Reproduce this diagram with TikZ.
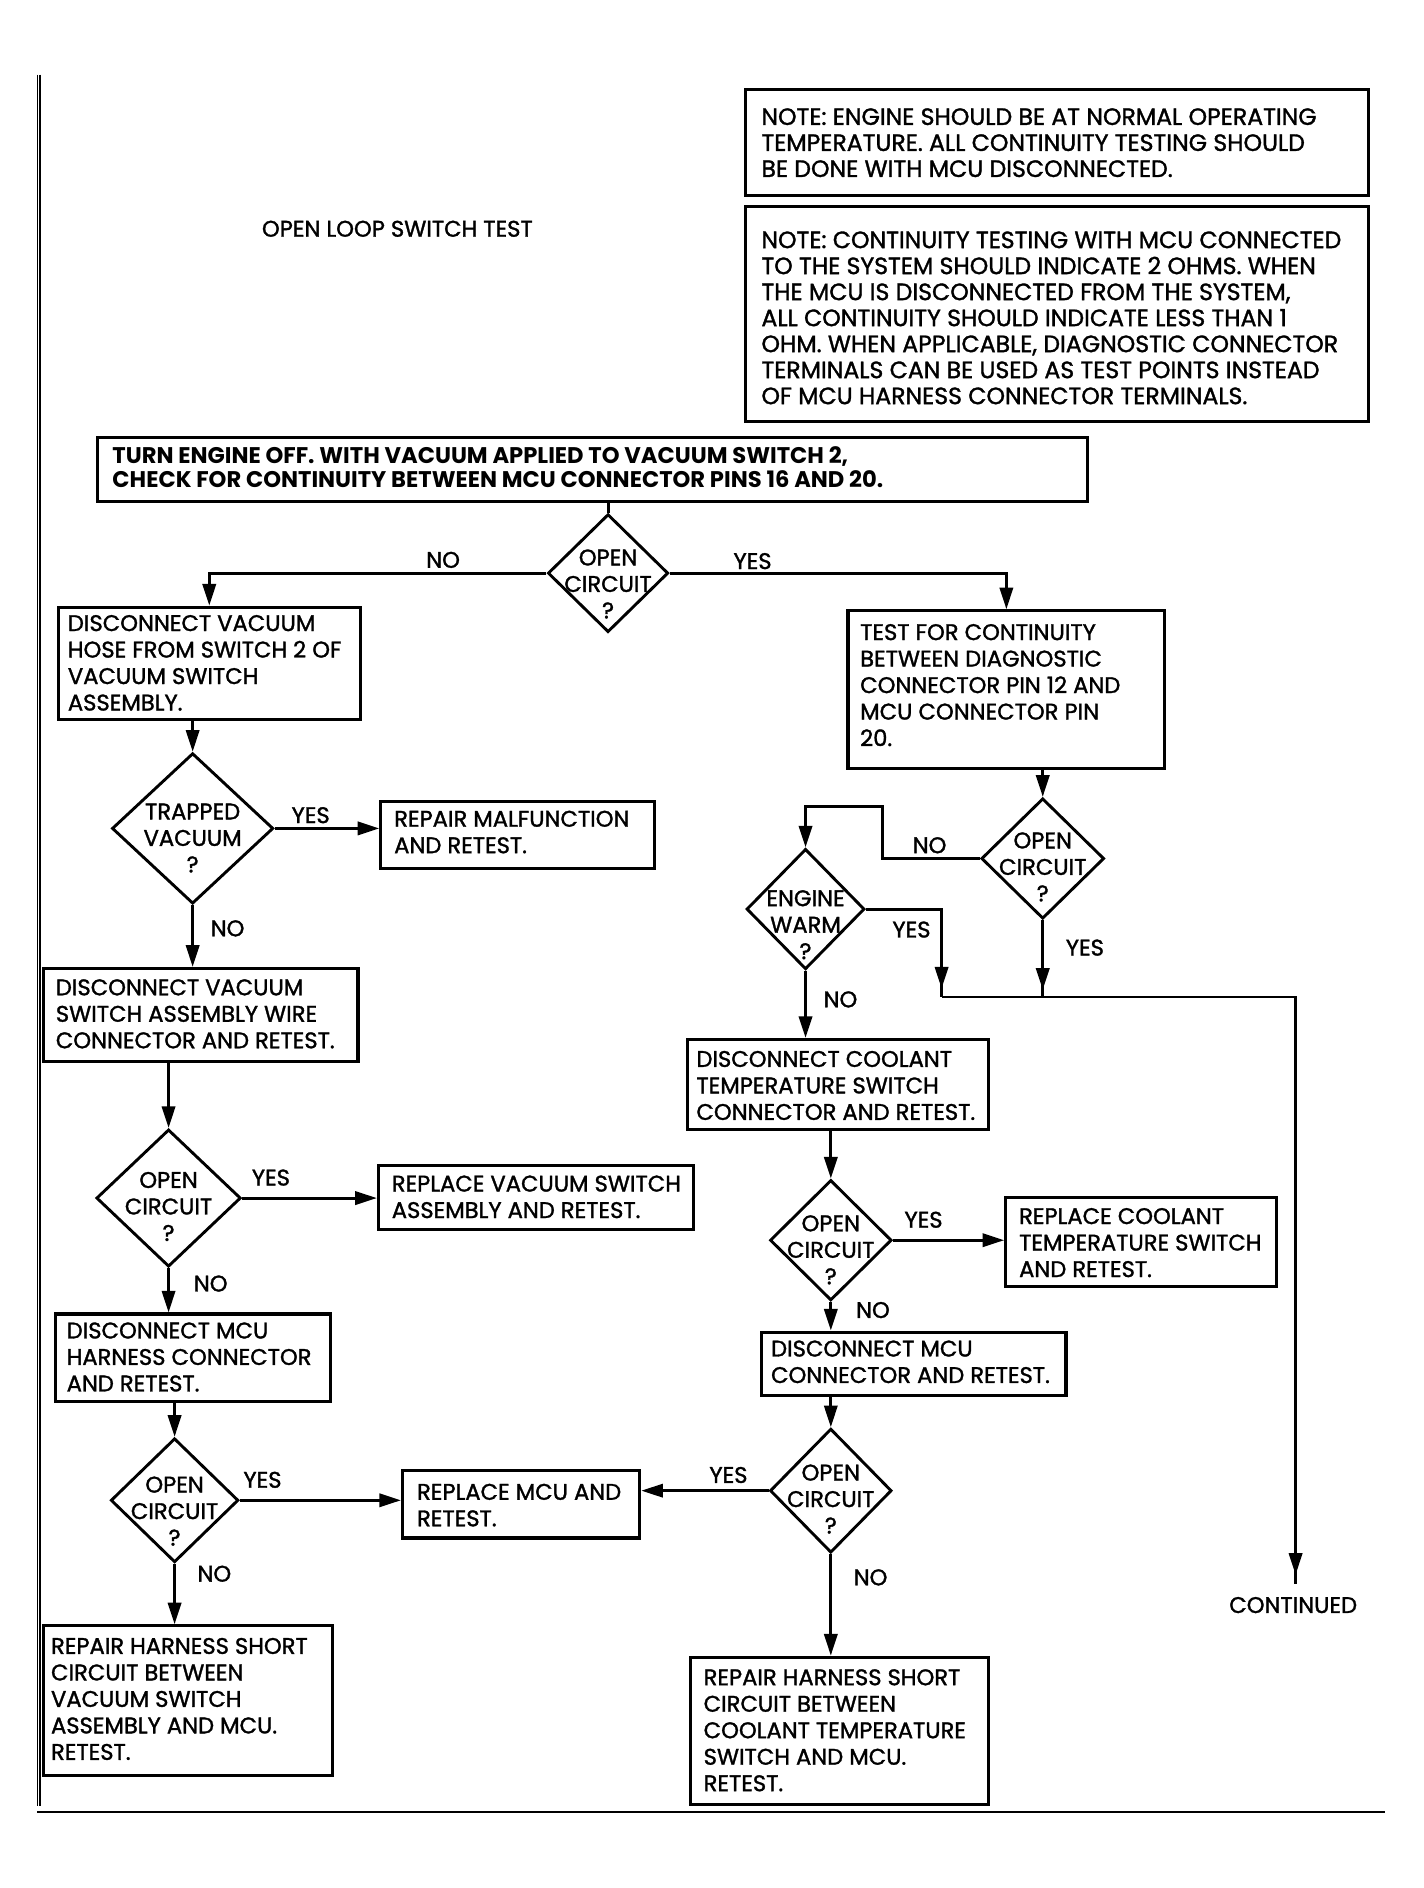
\documentclass[tikz,border=0pt]{standalone}
\usepackage{fontspec}
\setmainfont{Poppins}
\newfontfamily\heavyfont{Poppins}[FakeBold=1.4]
\usetikzlibrary{arrows.meta,shapes.geometric,decorations.markings}
\newcommand\bodyfont{\heavyfont\fontsize{9.4}{11}\selectfont}
\newcommand\notefont{\heavyfont\fontsize{9.8}{10.8}\selectfont}
\newcommand\topfont{\fontsize{9.4}{10}\selectfont\bfseries}
\begin{document}
\begin{tikzpicture}[x=0.5pt,y=-0.5pt,
  bx/.style={draw, line width=1.3pt, inner sep=0pt, anchor=north west},
  tx/.style={anchor=west, align=left, inner sep=0pt, font=\bodyfont},
  dm/.style={draw, shape=diamond, line width=1.2pt, inner sep=0pt},
  dt/.style={align=center, inner sep=0pt, font=\bodyfont},
  lb/.style={inner sep=0pt, font=\bodyfont},
  ln/.style={line width=1.2pt},
  arr/.style={line width=1.2pt, -{Triangle[length=9pt,width=5.5pt]}},
  midarr/.style={line width=1.2pt, postaction={decorate},
    decoration={markings, mark=at position #1 with {\arrow{Triangle[length=9pt,width=5.5pt]}}}}
]
\fill[white] (0,0) rectangle (1182,1568);
\useasboundingbox (0,0) rectangle (1182,1568);

% page frame lines
\draw[line width=0.4pt] (31.4,62) -- (31.4,1500);
\draw[line width=0.6pt] (33.2,62) -- (33.2,1500);
\draw[line width=0.6pt] (31,1505) -- (1150,1505);

% title
\node[lb] (title) at (330,190) {OPEN LOOP SWITCH TEST};

% notes
\node[bx, minimum width=258.5pt, minimum height=44pt] (n1) at (618,73) {};
\node[tx, font=\notefont] (n1t) at (632,118.5) {NOTE: ENGINE SHOULD BE AT NORMAL OPERATING\\TEMPERATURE. ALL CONTINUITY TESTING SHOULD\\BE DONE WITH MCU DISCONNECTED.};
\node[bx, minimum width=258.5pt, minimum height=89.5pt] (n2) at (618,170) {};
\node[tx, font=\notefont] (n2t) at (632,264) {NOTE: CONTINUITY TESTING WITH MCU CONNECTED\\TO THE SYSTEM SHOULD INDICATE 2 OHMS. WHEN\\THE MCU IS DISCONNECTED FROM THE SYSTEM,\\ALL CONTINUITY SHOULD INDICATE LESS THAN 1\\OHM. WHEN APPLICABLE, DIAGNOSTIC CONNECTOR\\TERMINALS CAN BE USED AS TEST POINTS INSTEAD\\OF MCU HARNESS CONNECTOR TERMINALS.};

% top box
\node[bx, minimum width=411pt, minimum height=26.5pt] (top) at (80,362) {};
\node[tx, font=\topfont] (topt) at (93,388) {TURN ENGINE OFF. WITH VACUUM APPLIED TO VACUUM SWITCH 2,\\CHECK FOR CONTINUITY BETWEEN MCU CONNECTOR PINS 16 AND 20.};

% left column boxes
\node[bx, minimum width=125.5pt, minimum height=46.5pt] (bA) at (47,503) {};
\node[tx] (tA) at (56,550.5) {DISCONNECT VACUUM\\HOSE FROM SWITCH 2 OF\\VACUUM SWITCH\\ASSEMBLY.};
\node[bx, minimum width=113.5pt, minimum height=28pt] (bR1) at (315,664) {};
\node[tx] (tR1) at (327,691) {REPAIR MALFUNCTION\\AND RETEST.};
\node[bx, minimum width=130.5pt, minimum height=38.5pt] (bC) at (35,803) {};
\node[tx] (tC) at (46,842) {DISCONNECT VACUUM\\SWITCH ASSEMBLY WIRE\\CONNECTOR AND RETEST.};
\node[bx, minimum width=131pt, minimum height=26.5pt] (bR2) at (313,967) {};
\node[tx] (tR2) at (325,994) {REPLACE VACUUM SWITCH\\ASSEMBLY AND RETEST.};
\node[bx, minimum width=114pt, minimum height=36.5pt] (bE) at (45,1090) {};
\node[tx] (tE) at (55,1127) {DISCONNECT MCU\\HARNESS CONNECTOR\\AND RETEST.};
\node[bx, minimum width=98.5pt, minimum height=28pt] (bR3) at (333,1220) {};
\node[tx] (tR3) at (346,1250) {REPLACE MCU AND\\RETEST.};
\node[bx, minimum width=120pt, minimum height=62pt] (bF) at (35,1349) {};
\node[tx] (tF) at (42,1411) {REPAIR HARNESS SHORT\\CIRCUIT BETWEEN\\VACUUM SWITCH\\ASSEMBLY AND MCU.\\RETEST.};

% right column boxes
\node[bx, minimum width=131.5pt, minimum height=65.5pt] (bB) at (703,506) {};
\node[tx] (tB) at (714,569) {TEST FOR CONTINUITY\\BETWEEN DIAGNOSTIC\\CONNECTOR PIN 12 AND\\MCU CONNECTOR PIN\\20.};
\node[bx, minimum width=125pt, minimum height=37.5pt] (bG) at (570,862) {};
\node[tx] (tG) at (578,901.5) {DISCONNECT COOLANT\\TEMPERATURE SWITCH\\CONNECTOR AND RETEST.};
\node[bx, minimum width=112.5pt, minimum height=37pt] (bR4) at (834,993) {};
\node[tx] (tR4) at (846,1032) {REPLACE COOLANT\\TEMPERATURE SWITCH\\AND RETEST.};
\node[bx, minimum width=126.5pt, minimum height=26.5pt] (bH) at (631,1105) {};
\node[tx] (tH) at (640,1131) {DISCONNECT MCU\\CONNECTOR AND RETEST.};
\node[bx, minimum width=124pt, minimum height=61pt] (bI) at (572,1375) {};
\node[tx] (tI) at (584,1437) {REPAIR HARNESS SHORT\\CIRCUIT BETWEEN\\COOLANT TEMPERATURE\\SWITCH AND MCU.\\RETEST.};

% diamonds
\node[dm, minimum width=50pt, minimum height=49pt] (d1) at (505,476) {};
\node[dt] (d1t) at (505,485) {OPEN\\CIRCUIT\\?};
\node[dm, minimum width=67pt, minimum height=62.5pt] (d2) at (160,688) {};
\node[dt] (d2t) at (160,696) {TRAPPED\\VACUUM\\?};
\node[dm, minimum width=60pt, minimum height=57pt] (d3) at (140,995) {};
\node[dt] (d3t) at (140,1002) {OPEN\\CIRCUIT\\?};
\node[dm, minimum width=53pt, minimum height=51.5pt] (d4) at (145,1246) {};
\node[dt] (d4t) at (145,1255) {OPEN\\CIRCUIT\\?};
\node[dm, minimum width=51pt, minimum height=50pt] (d5) at (866,713) {};
\node[dt] (d5t) at (866,720) {OPEN\\CIRCUIT\\?};
\node[dm, minimum width=49pt, minimum height=50pt] (d6) at (669,755) {};
\node[dt] (d6t) at (669,768) {ENGINE\\WARM\\?};
\node[dm, minimum width=50.5pt, minimum height=50pt] (d7) at (690,1030) {};
\node[dt] (d7t) at (690,1038) {OPEN\\CIRCUIT\\?};
\node[dm, minimum width=50.5pt, minimum height=51.5pt] (d8) at (690,1238) {};
\node[dt] (d8t) at (690,1245) {OPEN\\CIRCUIT\\?};

% continued label and junction coordinates
\node[lb] (cont) at (1074,1333) {CONTINUED};
\coordinate (k1) at (733,670);
\coordinate (jy) at (782,828);
\coordinate (jz) at (866,828);
\coordinate (jc) at (1076,828);

% connectors
\draw[ln] (d1.north |- top.south) -- (d1.north);
\draw[arr] (d1.west) -| (bA.north);
\draw[arr] (d1.east) -| (bB.north);

\draw[arr] (d2.north |- bA.south) -- (d2.north);
\draw[arr] (d2.east) -- (d2.east -| bR1.west);
\draw[arr] (d2.south) -- (d2.south |- bC.north);
\draw[arr] (d3.north |- bC.south) -- (d3.north);
\draw[arr] (d3.east) -- (d3.east -| bR2.west);
\draw[arr] (d3.south) -- (d3.south |- bE.north);
\draw[arr] (d4.north |- bE.south) -- (d4.north);
\draw[arr] (d4.east) -- (d4.east -| bR3.west);
\draw[arr] (d4.south) -- (d4.south |- bF.north);

\draw[arr] (d5.north |- bB.south) -- (d5.north);
\draw[arr] (d5.west) -| (k1) -| (d6.north);
\draw[midarr=-3.5pt] (d6.east) -| (jy);
\draw[midarr=-3pt] (d5.south) -- (jz);
\draw[midarr=-9pt, shorten >=5pt] (jy) -- (jc) -- (jc |- cont.north);
\draw[arr] (d6.south) -- (d6.south |- bG.north);
\draw[arr] (d7.north |- bG.south) -- (d7.north);
\draw[arr] (d7.east) -- (d7.east -| bR4.west);
\draw[arr] (d7.south) -- (d7.south |- bH.north);
\draw[arr] (d8.north |- bH.south) -- (d8.north);
\draw[arr] (d8.west) -- (d8.west -| bR3.east);
\draw[arr] (d8.south) -- (d8.south |- bI.north);

% branch labels
\node[lb] (l1) at (368,465) {NO};
\node[lb] (l2) at (625,466) {YES};
\node[lb] (l3) at (258,677) {YES};
\node[lb] (l4) at (189,771) {NO};
\node[lb] (l5) at (225,978) {YES};
\node[lb] (l6) at (175,1066) {NO};
\node[lb] (l7) at (218,1229) {YES};
\node[lb] (l8) at (178,1307) {NO};
\node[lb] (l9) at (772,702) {NO};
\node[lb] (l10) at (757,772) {YES};
\node[lb] (l11) at (901,787) {YES};
\node[lb] (l12) at (698,830) {NO};
\node[lb] (l13) at (767,1013) {YES};
\node[lb] (l14) at (725,1088) {NO};
\node[lb] (l15) at (605,1225) {YES};
\node[lb] (l16) at (723,1310) {NO};
\end{tikzpicture}
\end{document}
